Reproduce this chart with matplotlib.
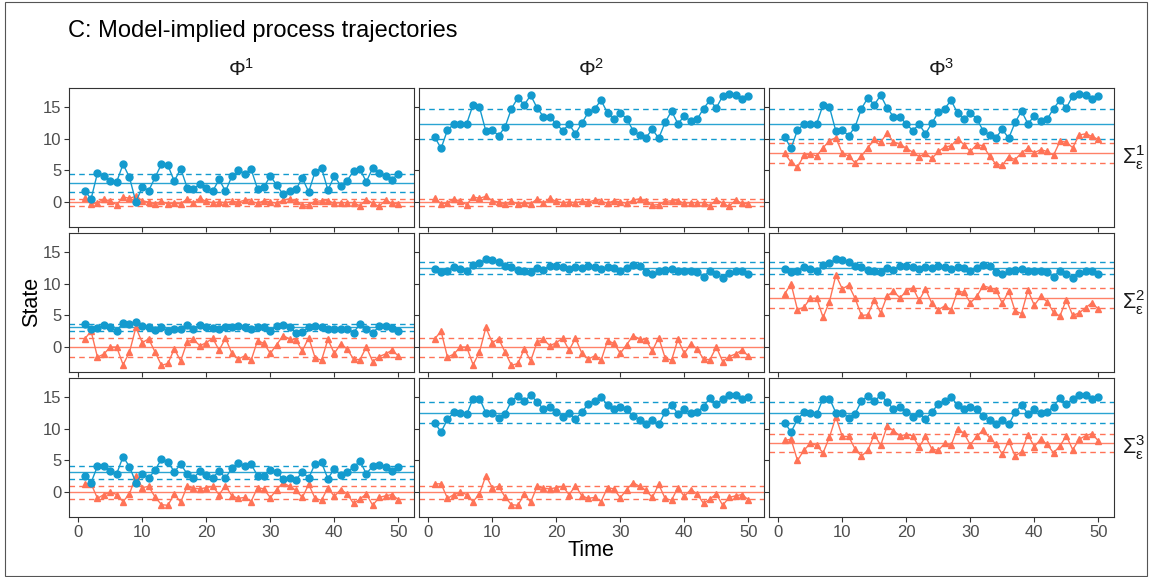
import matplotlib
matplotlib.use("Agg")
import matplotlib.pyplot as plt
from matplotlib.patches import Rectangle

plt.rcParams['font.family'] = ['Liberation Sans', 'DejaVu Sans']
plt.rcParams['mathtext.fontset'] = 'custom'
plt.rcParams['mathtext.rm'] = 'Liberation Sans'
plt.rcParams['mathtext.it'] = 'Liberation Sans'

# 时间点
time = list(range(1, 51))

# 第一行 (Sigma 1)
blue_s1_phi1 = [1.8, 0.5, 4.6, 4.2, 3.3, 3.2, 6.0, 3.9, 0.0, 2.4, 1.8, 3.9, 6.0, 5.8, 3.3, 5.3, 2.3, 2.0, 2.9, 2.3,
                1.7, 3.6, 1.7, 4.1, 5.0, 4.5, 5.2, 2.1, 2.4, 4.1, 2.7, 1.2, 1.8, 2.0, 3.8, 1.6, 4.8, 5.4, 1.9, 4.1,
                2.6, 3.4, 4.9, 5.2, 3.2, 5.4, 4.6, 4.2, 3.5, 4.5]
blue_s1_phi23 = [10.3, 8.5, 11.4, 12.3, 12.3, 12.4, 15.4, 15.0, 11.2, 11.4, 10.5, 11.9, 14.8, 16.5, 15.4, 16.9, 14.9,
                 13.5, 13.4, 12.4, 11.3, 12.3, 10.8, 12.5, 14.2, 14.8, 16.1, 14.1, 13.1, 14.1, 13.2, 11.3, 10.6, 10.2,
                 11.5, 10.1, 12.6, 14.4, 12.4, 13.6, 12.8, 13.1, 14.8, 16.1, 14.9, 16.8, 17.1, 16.9, 16.3, 16.8]
red_s1_phi12 = [0.7, -0.3, -0.1, 0.5, 0.1, -0.4, 0.8, 0.6, 0.9, 0.2, 0.0, -0.3, 0.1, -0.3, -0.2, -0.3, 0.5, -0.2,
                0.6, 0.1, -0.1, 0.0, -0.1, 0.1, 0.0, 0.3, 0.1, -0.2, 0.2, 0.0, -0.2, 0.3, 0.5, 0.1, -0.5, -0.4, 0.1,
                0.2, 0.2, -0.2, -0.1, -0.1, -0.1, -0.6, 0.4, -0.2, -0.7, 0.3, -0.2, -0.3]
red_s1_phi3 = [7.7, 6.3, 5.5, 7.4, 7.6, 7.3, 8.6, 9.7, 10.2, 7.7, 7.3, 6.2, 7.3, 8.6, 9.9, 9.5, 10.9, 9.5, 9.2, 8.5,
               7.9, 7.2, 7.7, 6.9, 8.0, 8.7, 8.9, 10.0, 9.1, 8.0, 9.1, 8.9, 7.3, 6.0, 5.8, 7.2, 6.7, 7.8, 8.5, 7.8,
               8.3, 8.0, 7.4, 9.6, 9.5, 8.6, 10.6, 10.8, 10.4, 9.9]

# 第二行 (Sigma 2)
blue_s2_phi1 = [3.7, 2.9, 3.0, 3.5, 3.1, 2.6, 3.8, 3.6, 3.9, 3.4, 3.1, 2.7, 3.1, 2.6, 2.9, 2.8, 3.5, 2.9, 3.5, 3.1,
                3.0, 2.9, 3.2, 3.1, 3.4, 3.1, 2.9, 3.2, 3.2, 2.6, 3.3, 3.5, 3.1, 2.3, 2.4, 3.2, 3.3, 3.2, 2.8, 2.9,
                2.9, 2.9, 2.3, 3.6, 2.8, 2.2, 3.3, 3.3, 3.0, 2.6]
blue_s2_phi23 = [12.3, 11.9, 12.0, 12.6, 12.4, 12.0, 13.0, 13.3, 13.9, 13.7, 13.4, 12.8, 12.7, 12.2, 12.1, 11.9, 12.5,
                 12.2, 12.9, 12.8, 12.6, 12.4, 12.6, 12.5, 12.8, 12.7, 12.3, 12.6, 12.5, 12.0, 12.5, 13.0, 12.8, 11.9,
                 11.5, 12.0, 12.2, 12.4, 12.0, 12.0, 12.0, 11.9, 11.1, 12.1, 11.6, 11.0, 11.7, 12.0, 12.0, 11.6]
red_s2_phi12 = [1.3, 2.5, -1.6, -1.1, 0.0, 0.0, -2.8, -0.8, 3.1, 0.7, 1.3, -0.8, -2.9, -2.6, -0.3, -2.2, 0.8, 1.2,
                0.2, 0.7, 1.4, -0.5, 1.4, -1.0, -1.9, -1.4, -2.1, 1.0, 0.6, -1.0, 0.4, 1.8, 1.3, 1.1, -0.6, 1.5, -1.7,
                -2.1, 1.2, -1.0, 0.5, -0.3, -1.9, -2.0, 0.0, -2.3, -1.5, -1.1, -0.5, -1.4]
red_s2_phi3 = [8.4, 10.0, 5.9, 6.3, 7.7, 7.7, 4.7, 7.2, 11.4, 9.2, 9.8, 7.7, 5.0, 5.1, 7.5, 5.4, 8.1, 8.8, 7.8, 8.8,
               9.4, 7.4, 9.2, 6.9, 5.9, 6.5, 5.9, 8.8, 8.7, 7.0, 8.0, 9.7, 9.4, 9.1, 6.9, 8.9, 5.7, 5.3, 9.0, 6.6,
               8.0, 7.2, 5.5, 4.9, 7.5, 5.0, 5.4, 6.2, 7.0, 6.0]

# 第三行 (Sigma 3)
blue_s3_phi1 = [2.6, 1.5, 4.1, 4.2, 3.3, 2.9, 5.6, 4.0, 1.5, 2.9, 2.2, 3.5, 5.2, 4.8, 3.2, 4.4, 2.9, 2.2, 3.3, 2.7,
                2.2, 3.4, 2.2, 3.8, 4.6, 4.1, 4.4, 2.6, 2.6, 3.5, 3.1, 2.1, 2.2, 1.9, 3.2, 2.2, 4.5, 4.7, 2.1, 3.7,
                2.7, 3.2, 3.9, 4.9, 2.9, 4.1, 4.3, 4.0, 3.4, 3.9]
blue_s3_phi23 = [11.0, 9.5, 11.5, 12.6, 12.55, 12.3, 14.8, 14.8, 12.55, 12.55, 11.75, 12.4, 14.4, 15.2, 14.4, 15.3,
                 14.3, 13.1, 13.5, 12.7, 11.9, 12.45, 11.6, 12.6, 14.0, 14.4, 15.1, 13.7, 13.1, 13.5, 13.1, 12.0,
                 11.4, 10.7, 11.4, 10.7, 12.6, 13.8, 12.4, 13.1, 12.5, 12.7, 13.5, 14.9, 13.9, 14.7, 15.3, 15.3,
                 14.7, 15.1]
red_s3_phi12 = [1.3, 1.3, -1.0, -0.4, 0.0, -0.4, -1.5, -0.3, 2.6, 0.7, 0.9, -0.8, -2.0, -2.1, -0.3, -1.6, 0.9, 0.6,
                0.5, 0.7, 0.9, -0.4, 1.0, -0.6, -1.0, -0.85, -1.5, 0.7, 0.5, -0.9, 0.4, 1.5, 0.9, 0.3, -0.85, 1.2,
                -1.0, -1.3, 0.7, -0.7, 0.4, -0.3, -1.8, -1.1, -0.3, -2.1, -0.85, -0.6, -0.4, -1.2]
red_s3_phi3 = [8.2, 8.35, 5.0, 6.6, 7.7, 7.4, 6.2, 8.7, 11.9, 8.8, 8.8, 6.8, 5.7, 6.6, 9.1, 7.4, 10.4, 9.7, 8.9, 9.1,
               8.9, 7.1, 8.8, 6.8, 6.6, 7.7, 7.4, 10.05, 9.3, 7.5, 8.8, 9.8, 8.6, 7.6, 6.0, 8.1, 5.7, 6.4, 9.1, 7.2,
               8.35, 7.55, 6.2, 7.3, 8.9, 6.7, 8.35, 8.9, 9.25, 8.1]

# 参考线: (均值, 上界, 下界)
blue_ref = [[(3.05, 4.5, 1.6), (12.4, 14.75, 10.05), (12.4, 14.75, 10.05)],
            [(3.1, 3.6, 2.55), (12.5, 13.4, 11.5), (12.5, 13.4, 11.5)],
            [(3.2, 4.15, 2.1), (12.55, 14.2, 10.9), (12.55, 14.2, 10.9)]]
red_ref = [[(-0.05, 0.55, -0.6), (-0.05, 0.55, -0.6), (7.75, 9.3, 6.2)],
           [(0.0, 1.4, -1.5), (0.0, 1.4, -1.5), (7.7, 9.3, 6.2)],
           [(0.0, 1.0, -1.05), (0.0, 1.0, -1.05), (7.8, 9.2, 6.4)]]

blue_series = [[blue_s1_phi1, blue_s1_phi23, blue_s1_phi23],
               [blue_s2_phi1, blue_s2_phi23, blue_s2_phi23],
               [blue_s3_phi1, blue_s3_phi23, blue_s3_phi23]]
red_series = [[red_s1_phi12, red_s1_phi12, red_s1_phi3],
              [red_s2_phi12, red_s2_phi12, red_s2_phi3],
              [red_s3_phi12, red_s3_phi12, red_s3_phi3]]

col_labels = [r'$\Phi^{1}$', r'$\Phi^{2}$', r'$\Phi^{3}$']
row_labels = [r'$\Sigma_{\epsilon}^{1}$', r'$\Sigma_{\epsilon}^{2}$', r'$\Sigma_{\epsilon}^{3}$']

BLUE = '#139ACE'
RED = '#FF7357'
W, H = 1152, 577

fig = plt.figure(figsize=(W / 100, H / 100), dpi=100)
fig.patches.append(Rectangle((5 / W, 0.002), 1142 / W, 0.994, transform=fig.transFigure,
                             fill=False, edgecolor='#555555', linewidth=0.8))

col_left = [69, 419, 769]
row_top = [88, 233, 378]
pw, ph = 345, 139

for r in range(3):
    for c in range(3):
        ax = fig.add_axes([col_left[c] / W, 1 - (row_top[r] + ph) / H, pw / W, ph / H])
        for ref, color in [(blue_ref[r][c], BLUE), (red_ref[r][c], RED)]:
            m, hi, lo = ref
            ax.axhline(m, color=color, linewidth=1.0, alpha=0.9, zorder=1)
            ax.axhline(hi, color=color, linewidth=1.0, linestyle=(0, (4, 3)), zorder=1)
            ax.axhline(lo, color=color, linewidth=1.0, linestyle=(0, (4, 3)), zorder=1)
        ax.plot(time, blue_series[r][c], color=BLUE, marker='o', markersize=5,
                linewidth=1.0, zorder=3)
        ax.plot(time, red_series[r][c], color=RED, marker='^', markersize=5,
                linewidth=1.0, zorder=2)
        ax.set_xlim(-1.45, 52.45)
        ax.set_ylim(-3.95, 18.05)
        ax.set_xticks([0, 10, 20, 30, 40, 50])
        ax.set_yticks([0, 5, 10, 15])
        ax.tick_params(direction='out', length=3.5, width=0.8, color='#333333',
                       labelsize=12, labelcolor='#4d4d4d', pad=2)
        if c != 0:
            ax.tick_params(labelleft=False)
        if r != 2:
            ax.tick_params(labelbottom=False)
        for s in ax.spines.values():
            s.set_color('#333333')
            s.set_linewidth(0.8)
        if r == 0:
            ax.text(0.5, 1.06, col_labels[c], transform=ax.transAxes, ha='center', va='bottom',
                    fontsize=15, color='#1a1a1a')
        if c == 2:
            ax.text(1.022, 0.5, row_labels[r], transform=ax.transAxes, ha='left', va='center',
                    fontsize=15.5, color='#1a1a1a')

fig.text(68 / W, 1 - 31 / H, 'C: Model-implied process trajectories', ha='left', va='center',
         fontsize=17, color='black')
fig.text(32 / W, 1 - 302 / H, 'State', rotation=90, ha='center', va='center', fontsize=15.5)
fig.text(591 / W, 1 - 551 / H, 'Time', ha='center', va='center', fontsize=15.5)

fig.savefig('out.png', dpi=100)
